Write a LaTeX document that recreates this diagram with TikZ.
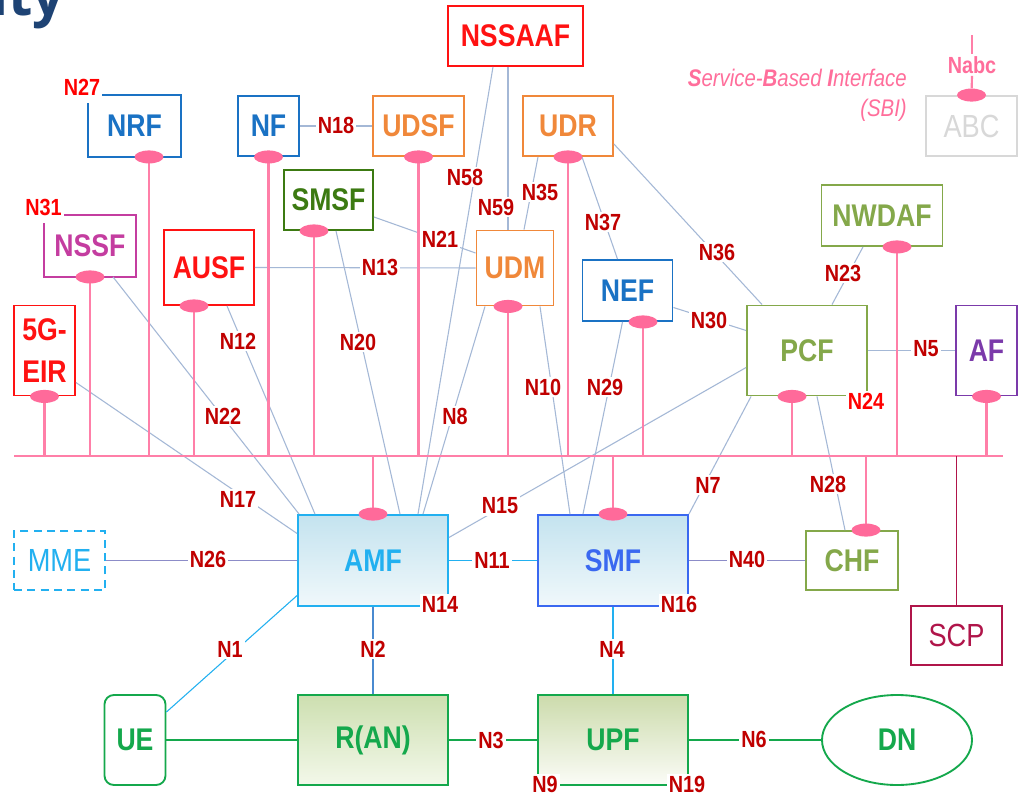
\documentclass[tikz,border=0pt]{standalone}
\usepackage{fontspec}
\setmainfont{Liberation Sans}[FakeStretch=0.85]
\newfontfamily\titlefont{Open Sans}
\usetikzlibrary{shapes.geometric,calc}
\definecolor{lblc}{HTML}{C00000}
\definecolor{bred}{HTML}{FF0000}
\definecolor{connc}{HTML}{A4B8D6}
\definecolor{pinkl}{HTML}{FF7FA8}
\definecolor{pinke}{HTML}{FF6A9A}
\definecolor{pinkt}{HTML}{FF6E9B}
\definecolor{blueA}{HTML}{1A72C4}
\definecolor{orangeA}{HTML}{F0883A}
\definecolor{redA}{HTML}{FF1212}
\definecolor{smsfc}{HTML}{3C7A12}
\definecolor{nssfc}{HTML}{C43DA0}
\definecolor{olive}{HTML}{84A84A}
\definecolor{afc}{HTML}{7B3AAA}
\definecolor{amfc}{HTML}{22B0F0}
\definecolor{smfc}{HTML}{3A68F0}
\definecolor{greenA}{HTML}{14A84C}
\definecolor{scpc}{HTML}{B0154A}
\definecolor{abcc}{HTML}{D8D8D8}
\definecolor{purc}{HTML}{8C8CC8}
\definecolor{navy}{HTML}{1E4374}
\definecolor{bluen}{HTML}{4A8AD0}
\definecolor{amfA}{HTML}{C4E3EF}
\definecolor{amfB}{HTML}{F0F8FB}
\definecolor{ranA}{HTML}{CDDFB0}
\definecolor{ranB}{HTML}{F3F8EA}
\definecolor{upfA}{HTML}{CCDBAC}
\definecolor{upfB}{HTML}{FBFCF7}
\tikzset{
  wh/.style 2 args={minimum width=#1*0.75pt, minimum height=#2*0.75pt},
  box/.style={draw, rectangle, line width=1.4pt, inner sep=0, align=center,
    font=\fontsize{23.5}{28}\selectfont\bfseries},
  plainbox/.style={draw, rectangle, line width=1.4pt, inner sep=0, align=center,
    font=\fontsize{24}{28}\selectfont},
  conn/.style={draw=connc, line width=0.8pt},
  cyanl/.style={draw=amfc, line width=0.8pt},
  purl/.style={draw=purc, line width=0.8pt},
  bluel/.style={draw=bluen, line width=0.8pt},
  greenl/.style={draw=greenA, line width=0.8pt},
  lbl/.style={fill=white, inner sep=1.5pt, text=lblc, font=\fontsize{17.5}{20}\selectfont\bfseries},
  rlbl/.style={lbl, text=bred},
  sbi/.style={draw=pinkl, line width=1.6pt},
  sbie/.style={ellipse, fill=pinke, minimum width=29*0.75pt, minimum height=13*0.75pt, inner sep=0},
}
\begin{document}
\begin{tikzpicture}[x=0.75pt,y=-0.75pt]
\useasboundingbox (0,0) rectangle (1025,796);
\fill[white] (0,0) rectangle (1025,796);
% title fragment
\node[anchor=base west, inner sep=0, text=navy, font=\titlefont\bfseries\fontsize{42}{42}\selectfont] (title) at (-9,15) {ity};
% legend
\node[anchor=east, align=right, inner sep=0, text=pinkt, font=\itshape\fontsize{18}{22.5}\selectfont] (sbitext) at (907,95) {\textbf{S}ervice-\textbf{B}ased \textbf{I}nterface\\(SBI)};
% nodes
\node[box, wh={91}{60}, draw=none, text=blueA] (nrf) at (134.5,126) {NRF};
\node[box, wh={61}{60}, draw=blueA, text=blueA] (nf) at (268.5,126) {NF};
\node[box, wh={91}{60}, draw=orangeA, text=orangeA] (udsf) at (418.5,126) {UDSF};
\node[box, wh={135}{60}, draw=redA, text=redA] (nssaaf) at (515.5,36) {NSSAAF};
\node[box, wh={90}{60}, draw=orangeA, text=orangeA] (udr) at (568,126) {UDR};
\node[box, wh={89}{60}, draw=smsfc, text=smsfc] (smsf) at (328.5,200) {SMSF};
\node[box, wh={90}{60}, draw=none, text=nssfc] (nssf) at (90,246) {NSSF};
\node[box, wh={90}{75}, draw=redA, text=redA] (ausf) at (209,267.5) {AUSF};
\node[box, wh={61}{90}, draw=redA, text=redA, font=\fontsize{23.5}{31}\selectfont\bfseries] (eir) at (44.5,350.5) {5G-\\EIR};
\node[box, wh={77}{75}, draw=orangeA, text=orangeA] (udm) at (515,268) {UDM};
\node[box, wh={90}{61}, draw=blueA, text=blueA] (nef) at (627.5,290.5) {NEF};
\node[box, wh={121}{61}, draw=olive, text=olive] (nwdaf) at (882,215.5) {NWDAF};
\node[box, wh={120}{90}, draw=olive, text=olive] (pcf) at (807,350.5) {PCF};
\node[box, wh={61}{90}, draw=afc, text=afc] (af) at (986.5,350.5) {AF};
\node[plainbox, wh={91}{60}, draw=abcc, text=abcc] (abc) at (971.5,126) {ABC};
\node[box, wh={150}{91}, draw=amfc, text=amfc, top color=amfA, bottom color=amfB] (amf) at (373,560.5) {AMF};
\node[box, wh={150}{91}, draw=smfc, text=smfc, top color=amfA, bottom color=amfB] (smf) at (613,560.5) {SMF};
\node[box, wh={92}{59}, draw=olive, text=olive] (chf) at (852,560.5) {CHF};
\node[plainbox, wh={91}{59}, draw=scpc, text=scpc] (scp) at (956.5,635.5) {SCP};
\node[plainbox, wh={91}{59}, draw=amfc, text=amfc, dashed, dash pattern=on 6pt off 4pt] (mme) at (59.5,560.5) {MME};
\node[box, wh={61}{90}, draw=greenA, text=greenA, rounded corners=7pt] (ue) at (135,740) {UE};
\node[box, wh={150}{90}, draw=greenA, text=greenA, top color=ranA, bottom color=ranB] (ran) at (373,740) {R(AN)};
\node[box, wh={150}{90}, draw=greenA, text=greenA, top color=upfA, bottom color=upfB] (upf) at (613,740) {UPF};
\node[box, ellipse, wh={150}{90}, draw=greenA, text=greenA] (dn) at (897,740) {DN};
% boxes with open corner
\draw[blueA, line width=1.4pt] ($(nrf.north west)+(0,8)$) -- (nrf.south west) -- (nrf.south east) -- (nrf.north east) -- ($(nrf.north west)+(13,0)$);
\draw[nssfc, line width=1.4pt] ($(nssf.north west)+(0,8)$) -- (nssf.south west) -- (nssf.south east) -- (nssf.north east) -- ($(nssf.north west)+(19,0)$);
% connectors
\draw[conn] (nf.east) -- (udsf.west);
\draw[conn] (ausf.east) -- (udm.west);
\draw[conn] ($(smsf.east)+(0,17)$) -- ($(udm.west)+(0,-15)$);
\draw[conn] ($(smsf.south)+(7.5,0)$) -- ($(amf.north)+(27,0)$);
\draw[conn] ($(ausf.south)+(18,0)$) -- ($(amf.north)+(-58,0)$);
\draw[conn] ($(nssf.south)+(23,0)$) -- ($(amf.north west)+(2,0)$);
\draw[conn] ($(eir.east)+(0,32)$) -- ($(amf.west)+(0,-27)$);
\draw[conn] ($(nssaaf.south)+(-22.5,0)$) -- ($(amf.north)+(45,0)$);
\draw[conn] ($(udm.south)+(-30,0)$) -- ($(amf.north)+(50,0)$);
\draw[conn] ($(nssaaf.south)+(-7.5,0)$) -- ($(udm.north)+(-7,0)$);
\draw[conn] ($(udr.south)+(-30,0)$) -- ($(udm.north)+(9,0)$);
\draw[conn] ($(udr.south)+(14,0)$) -- ($(nef.north)+(-10,0)$);
\draw[conn] ($(udr.east)+(0,18)$) -- ($(pcf.north west)+(16,0)$);
\draw[conn] ($(nef.east)+(0,17)$) -- ($(pcf.west)+(0,-20)$);
\draw[conn] ($(nwdaf.south)+(-19,0)$) -- ($(pcf.north)+(25,0)$);
\draw[conn] (pcf.east) -- (af.west);
\draw[conn] ($(pcf.south)+(10,0)$) -- ($(chf.north)+(-7,0)$);
\draw[conn] ($(pcf.south west)+(5,0)$) -- (smf.north east);
\draw[conn] ($(pcf.west)+(0,17)$) -- ($(amf.east)+(0,-23)$);
\draw[conn] ($(udm.south)+(25,0)$) -- ($(smf.north)+(-43,0)$);
\draw[conn] ($(nef.south)+(-5,0)$) -- ($(smf.north)+(-30,0)$);
\draw[cyanl] (amf.east) -- (smf.west);
\draw[purl] (mme.east) -- (amf.west);
\draw[purl] (smf.east) -- (chf.west);
\draw[cyanl] ($(amf.west)+(0,35)$) -- ($(ue.east)+(0,-28)$);
\draw[bluel] (amf.south) -- (ran.north);
\draw[cyanl] (smf.south) -- (upf.north);
\draw[greenl] (ue.east) -- (ran.west);
\draw[greenl] (ran.east) -- (upf.west);
\draw[greenl] (upf.east) -- (dn.west);
% service-based bus
\coordinate (busL) at (14,456);
\coordinate (busR) at (1003,456);
\draw[sbi] (busL) -- (busR);
\coordinate (e-eir) at (eir.south);
\coordinate (e-nssf) at (nssf.south);
\coordinate (e-nrf) at ($(nrf.south)+(14.5,0)$);
\coordinate (e-ausf) at ($(ausf.south)+(-15,0)$);
\coordinate (e-nf) at (nf.south);
\coordinate (e-smsf) at ($(smsf.south)+(-14.5,0)$);
\coordinate (e-udsf) at (udsf.south);
\coordinate (e-udm) at ($(udm.south)+(-7,0)$);
\coordinate (e-udr) at (udr.south);
\coordinate (e-nef) at ($(nef.south)+(15.5,0)$);
\coordinate (e-pcf) at ($(pcf.south)+(-15,0)$);
\coordinate (e-nwdaf) at ($(nwdaf.south)+(15,0)$);
\coordinate (e-af) at (af.south);
\coordinate (e-amf) at (amf.north);
\coordinate (e-smf) at (smf.north);
\coordinate (e-chf) at ($(chf.north)+(14,0)$);
\foreach \e in {eir,nssf,nrf,ausf,nf,smsf,udsf,udm,udr,nef,pcf,nwdaf,af,amf,smf,chf}{
  \draw[sbi] (e-\e) -- (e-\e |- busL);
}
\draw[draw=scpc, line width=1pt] (scp.north) -- (scp.north |- busL);
\foreach \e in {eir,nssf,nrf,ausf,nf,smsf,udsf,udm,udr,nef,pcf,nwdaf,af,amf,smf,chf}{
  \node[sbie] (s-\e) at (e-\e) {};
}
% legend connector
\node[sbie] (s-abc) at (abc.north) {};
\node[lbl, text=pinkt, fill=none] (nabc) at (972,65) {Nabc};
\coordinate (nabctop) at (972,35);
\draw[sbi] (nabctop) -- (nabc.north);
\draw[sbi] (nabc.south) -- (s-abc);
% labels
\node[rlbl] at (82,87.5) {N27};
\node[rlbl] at (43.5,207.5) {N31};
\node[lbl] at (336,125) {N18};
\node[lbl] at (465,177) {N58};
\node[lbl] at (496,207) {N59};
\node[lbl] at (540,192) {N35};
\node[lbl] at (603,222) {N37};
\node[lbl] at (440,239) {N21};
\node[lbl] at (380,267) {N13};
\node[lbl] at (717,252) {N36};
\node[lbl] at (843,273) {N23};
\node[lbl] at (238,341) {N12};
\node[lbl] at (358,342) {N20};
\node[lbl] at (223,416) {N22};
\node[lbl] at (455,416) {N8};
\node[lbl] at (543,387) {N10};
\node[lbl] at (605,387) {N29};
\node[lbl] at (709,320) {N30};
\node[lbl] at (926,349) {N5};
\node[rlbl] at (866,401) {N24};
\node[lbl] at (238,499) {N17};
\node[lbl] at (500,506) {N15};
\node[lbl] at (708,485) {N7};
\node[lbl] at (828,484) {N28};
\node[lbl] at (208,559) {N26};
\node[lbl] at (492,560) {N11};
\node[lbl] at (440,604) {N14};
\node[lbl] at (747,559) {N40};
\node[lbl] at (679,604) {N16};
\node[lbl] at (230,649) {N1};
\node[lbl] at (373,649) {N2};
\node[lbl] at (612,649) {N4};
\node[lbl] at (491,740) {N3};
\node[lbl] at (754,739) {N6};
\node[lbl] at (545,784) {N9};
\node[lbl] at (687,784) {N19};
\end{tikzpicture}
\end{document}
